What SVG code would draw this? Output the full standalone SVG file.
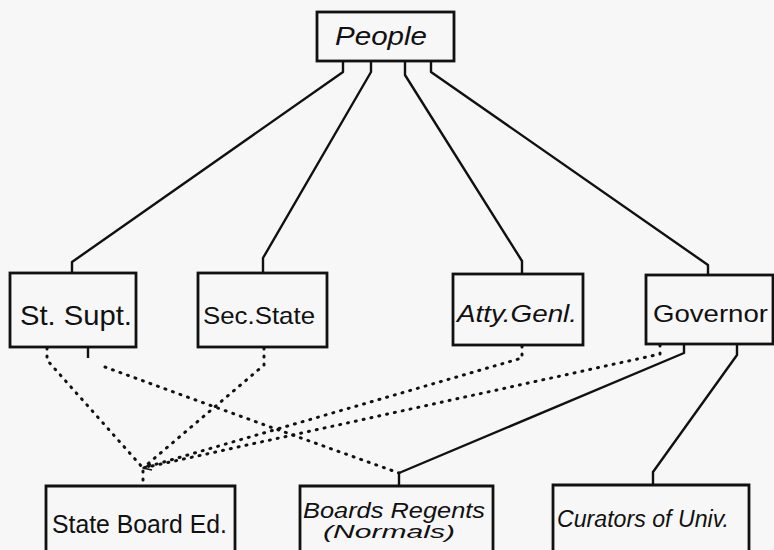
<svg xmlns="http://www.w3.org/2000/svg" width="774" height="550" viewBox="0 0 774 550">
<style>
.box{fill:none;stroke:#111;stroke-width:2.8}
.solid{fill:none;stroke:#111;stroke-width:2.4;stroke-linejoin:round}
.dot{fill:none;stroke:#111;stroke-width:3;stroke-dasharray:1 7;stroke-linecap:round}
.lbl{font-family:"Liberation Sans","DejaVu Sans",sans-serif;fill:#111;text-anchor:start}
.it{font-style:italic}
</style>
<rect width="774" height="550" fill="#f7f7f7"/>
<g id="connectors">
  <path class="solid" d="M343,61 V72 L72,262 V273"/>
  <path class="solid" d="M371,61 V72 L263,258 V273"/>
  <path class="solid" d="M405,61 V75 L522,261 V274"/>
  <path class="solid" d="M431,61 V72 L708,265 V275"/>
  <path class="solid" d="M684,344 V353 L399,473 V486"/>
  <path class="solid" d="M737,344 V355 L653,472 V485"/>
  <path class="solid" d="M88,347 V358"/>
  <path class="dot" d="M47,348 V360 L143,468"/>
  <path class="dot" d="M105,367 Q250,420 399,473"/>
  <path class="dot" d="M264,348 V365 L143,468"/>
  <path class="dot" d="M522,346 V358 L143,468"/>
  <path class="dot" d="M660,345 V354 L143,468"/>
  <path class="dot" d="M143,471 V486"/>
  <path class="solid" d="M151,464 L143,468 L152,470" style="stroke-width:1.6"/>
</g>
<g id="people">
  <rect class="box" x="317" y="12" width="137" height="49"/>
  <text class="lbl it" x="335" y="45" font-size="26" textLength="92" lengthAdjust="spacingAndGlyphs">People</text>
</g>
<g id="st-supt">
  <rect class="box" x="10" y="273" width="126" height="74"/>
  <text class="lbl" x="20" y="325" font-size="28" textLength="112" lengthAdjust="spacingAndGlyphs">St. Supt.</text>
</g>
<g id="sec-state">
  <rect class="box" x="198" y="273" width="129" height="74"/>
  <text class="lbl" x="203" y="324" font-size="24" textLength="112" lengthAdjust="spacingAndGlyphs">Sec.State</text>
</g>
<g id="atty-genl">
  <rect class="box" x="453" y="274" width="130" height="71"/>
  <text class="lbl it" x="457" y="322" font-size="24" textLength="120" lengthAdjust="spacingAndGlyphs">Atty.Genl.</text>
</g>
<g id="governor">
  <rect class="box" x="646" y="275" width="127" height="69"/>
  <text class="lbl" x="653" y="322" font-size="24" textLength="115" lengthAdjust="spacingAndGlyphs">Governor</text>
</g>
<g id="state-board-ed">
  <path class="box" d="M46,560 V486 H235 V560"/>
  <text class="lbl" x="52" y="533" font-size="25" textLength="175" lengthAdjust="spacingAndGlyphs">State Board Ed.</text>
</g>
<g id="boards-regents">
  <path class="box" d="M300,560 V486 H493 V560"/>
  <text class="lbl it" x="303" y="518" font-size="22" textLength="182" lengthAdjust="spacingAndGlyphs">Boards Regents</text>
  <text class="lbl it" x="323" y="538" font-size="19" textLength="132" lengthAdjust="spacingAndGlyphs">(Normals)</text>
</g>
<g id="curators">
  <path class="box" d="M553,560 V485 H749 V560"/>
  <text class="lbl it" x="557" y="527" font-size="23" textLength="172" lengthAdjust="spacingAndGlyphs">Curators of Univ.</text>
</g>
</svg>
